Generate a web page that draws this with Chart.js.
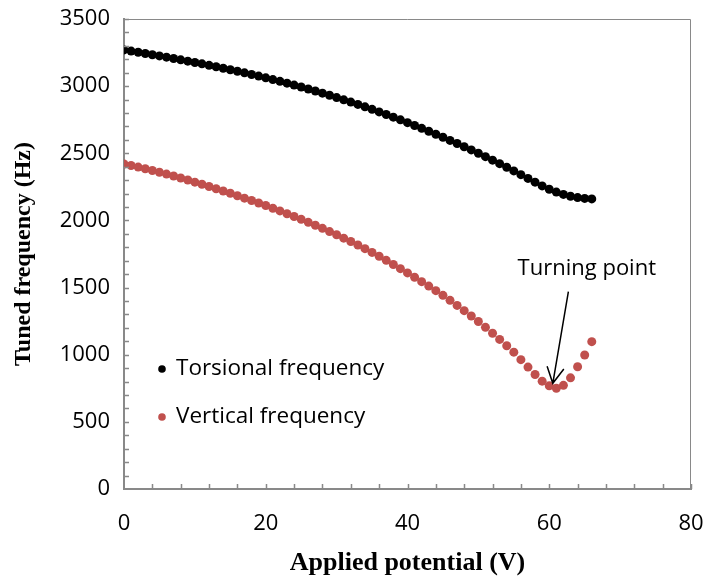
<!DOCTYPE html>
<html>
<head>
<meta charset="utf-8">
<script src="https://cdn.jsdelivr.net/npm/chart.js@4.4.1/dist/chart.umd.min.js"></script>
<style>
    html, body { margin: 0; padding: 0; background: #fff; }
</style>
</head>
<body>
<canvas id="chart" width="705" height="581"></canvas>
<script>
// applied potential (V)
const voltage = [0, 1, 2, 3, 4, 5, 6, 7, 8, 9, 10, 11, 12, 13, 14, 15, 16, 17, 18, 19,
    20, 21, 22, 23, 24, 25, 26, 27, 28, 29, 30, 31, 32, 33, 34, 35, 36, 37, 38, 39,
    40, 41, 42, 43, 44, 45, 46, 47, 48, 49, 50, 51, 52, 53, 54, 55, 56, 57, 58, 59,
    60, 61, 62, 63, 64, 65, 66];

// torsional frequency (Hz)
const torsional = [3270, 3261, 3252, 3243, 3234, 3225, 3216, 3206, 3196, 3186,
    3176, 3166, 3155, 3144, 3133, 3122, 3111, 3099, 3087, 3075,
    3062, 3049, 3036, 3022, 3008, 2994, 2979, 2964, 2948, 2932,
    2915, 2898, 2881, 2864, 2846, 2827, 2808, 2789, 2769, 2749,
    2728, 2707, 2686, 2664, 2642, 2619, 2596, 2573, 2549, 2525,
    2500, 2475, 2449, 2423, 2396, 2369, 2341, 2313, 2285, 2257,
    2232, 2211, 2194, 2180, 2170, 2164, 2160];

// vertical frequency (Hz)
const vertical = [2420, 2409, 2397, 2385, 2372, 2359, 2345, 2331, 2316, 2301,
    2285, 2269, 2253, 2236, 2219, 2202, 2184, 2166, 2148, 2130,
    2111, 2091, 2071, 2050, 2029, 2008, 1986, 1964, 1941, 1917,
    1893, 1868, 1843, 1817, 1790, 1762, 1733, 1703, 1672, 1641,
    1609, 1577, 1544, 1511, 1477, 1442, 1405, 1367, 1328, 1288,
    1247, 1204, 1160, 1114, 1067, 1019, 963, 908, 853, 803,
    768, 750, 772, 828, 910, 998, 1097];

const seriesNames = ['Torsional frequency', 'Vertical frequency'];
const seriesColors = ['#000000', '#C0504D'];

const yMin = 0, yMax = 3500, yStep = 500, yMinorStep = 100;
const xMin = 0, xMax = 80, xStep = 20, xMinorStep = 4;

// annotation: label and arrow, in data units
const noteText = 'Turning point';
const noteAt = [65.3, 1640];
const arrowFrom = [62.7, 1469];
const arrowTo = [60.5, 787];

const tickFont = { family: 'Open Sans', size: 22 };
const axisGray = '#898989';

function toPoints(ys) {
    return voltage.map((v, i) => ({ x: v, y: ys[i] }));
}

const extras = {
    id: 'extras',
    afterDraw(chart) {
        const { ctx, chartArea: a, scales: { x, y } } = chart;
        ctx.save();

        // top and right frame
        ctx.strokeStyle = axisGray;
        ctx.lineWidth = 1;
        ctx.beginPath();
        ctx.moveTo(a.left, a.top + 0.5);
        ctx.lineTo(a.right - 0.5, a.top + 0.5);
        ctx.lineTo(a.right - 0.5, a.bottom);
        ctx.stroke();

        // inward tick marks
        ctx.lineWidth = 1.5;
        ctx.beginPath();
        for (let v = yMin + yMinorStep; v <= yMax; v += yMinorStep) {
            const py = Math.round(y.getPixelForValue(v)) + 0.5;
            ctx.moveTo(a.left, py);
            ctx.lineTo(a.left + 5, py);
        }
        for (let v = xMin + xMinorStep; v <= xMax; v += xMinorStep) {
            const px = Math.round(x.getPixelForValue(v)) + 0.5;
            ctx.moveTo(px, a.bottom);
            ctx.lineTo(px, a.bottom - 5);
        }
        ctx.stroke();

        // legend inside the plot
        ctx.font = '22.5px "Open Sans"';
        ctx.textBaseline = 'middle';
        ctx.textAlign = 'left';
        seriesNames.forEach((name, i) => {
            const ly = a.top + 350 + i * 48;
            ctx.fillStyle = seriesColors[i];
            ctx.beginPath();
            ctx.arc(a.left + 38, ly, 3.8, 0, Math.PI * 2);
            ctx.fill();
            ctx.fillStyle = '#000';
            ctx.fillText(name, a.left + 52, ly);
        });

        // turning point note
        ctx.font = '22px "Open Sans"';
        ctx.textAlign = 'center';
        ctx.fillText(noteText, x.getPixelForValue(noteAt[0]), y.getPixelForValue(noteAt[1]));

        const x0 = x.getPixelForValue(arrowFrom[0]), y0 = y.getPixelForValue(arrowFrom[1]);
        const x1 = x.getPixelForValue(arrowTo[0]), y1 = y.getPixelForValue(arrowTo[1]);
        const ang = Math.atan2(y0 - y1, x0 - x1);
        const head = 18, spread = 0.49;
        ctx.strokeStyle = '#000';
        ctx.lineWidth = 1.5;
        ctx.beginPath();
        ctx.moveTo(x0, y0);
        ctx.lineTo(x1, y1);
        ctx.moveTo(x1 + head * Math.cos(ang - spread), y1 + head * Math.sin(ang - spread));
        ctx.lineTo(x1, y1);
        ctx.lineTo(x1 + head * Math.cos(ang + spread), y1 + head * Math.sin(ang + spread));
        ctx.stroke();

        ctx.restore();
    }
};

new Chart(document.getElementById('chart'), {
    type: 'scatter',
    data: {
        datasets: seriesNames.map((name, i) => ({
            label: name,
            data: toPoints(i === 0 ? torsional : vertical),
            backgroundColor: seriesColors[i],
            borderWidth: 0,
            pointRadius: 4.5,
            showLine: false
        }))
    },
    options: {
        responsive: false,
        animation: false,
        devicePixelRatio: 1,
        layout: { padding: { top: 19, right: 14, left: 0, bottom: 0 } },
        plugins: {
            legend: { display: false },
            tooltip: { enabled: false }
        },
        scales: {
            x: {
                type: 'linear',
                min: xMin,
                max: xMax,
                ticks: {
                    stepSize: xStep, font: tickFont, color: '#000', padding: 22,
                    callback: v => String(v)
                },
                grid: { display: false, drawTicks: false },
                border: { display: true, color: axisGray, width: 2 },
                title: {
                    display: true,
                    text: 'Applied potential (V)',
                    font: { family: 'Liberation Serif', size: 26, weight: 'bold' },
                    color: '#000',
                    padding: { top: 0, bottom: 2 }
                },
                afterFit(scale) {
                    scale.height = 92;
                    scale.paddingLeft = 0;
                    scale.paddingRight = 0;
                }
            },
            y: {
                min: yMin,
                max: yMax,
                ticks: {
                    stepSize: yStep, font: tickFont, color: '#000', padding: 14,
                    callback: v => String(v)
                },
                grid: { display: false, drawTicks: false },
                border: { display: true, color: axisGray, width: 2 },
                title: {
                    display: true,
                    text: 'Tuned frequency (Hz)',
                    font: { family: 'Liberation Serif', size: 24, weight: 'bold' },
                    color: '#000',
                    padding: { top: 9, bottom: 0 }
                },
                afterFit(scale) {
                    scale.width = 124;
                    scale.paddingTop = 0;
                    scale.paddingBottom = 0;
                }
            }
        }
    },
    plugins: [extras]
});
</script>
</body>
</html>
